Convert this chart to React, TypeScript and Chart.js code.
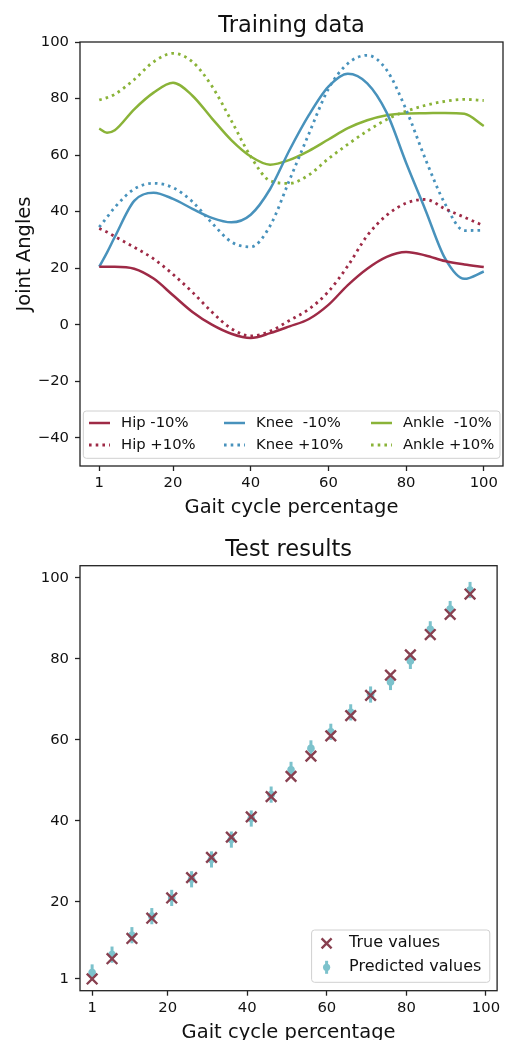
import React, { useEffect, useRef } from 'react';
import { Chart, registerables } from 'chart.js';

Chart.register(...registerables);

const FONT = '"DejaVu Sans", "Liberation Sans", sans-serif';
Chart.defaults.font.family = FONT;

// ---------- Training data ----------
const gaitX = [1, 3, 5, 10, 15, 20, 25, 30, 35, 40, 45, 50, 55, 60, 65, 70, 75, 80, 85, 90, 95, 100];
const hipMinus = [20.5, 20.5, 20.5, 19.8, 16.3, 10.4, 4.5, 0, -3.2, -4.7, -3.0, -0.6, 2.0, 7.0, 14.0, 19.8, 24.0, 25.7, 24.5, 22.5, 21.3, 20.4];
const hipPlus = [34, 32.8, 31.2, 27.4, 23.3, 17.8, 11.5, 4.5, -1.4, -4.0, -2.3, 1.5, 5.5, 11.7, 20.8, 31.5, 38.7, 43.0, 44.3, 41.0, 38.0, 35.0];
const kneeMinus = [20.5, 25.5, 31, 43.8, 46.7, 44.5, 41, 37.8, 36.2, 38.9, 48, 61.8, 74.2, 84.2, 88.8, 85.4, 75, 57.3, 40.5, 23.5, 16.2, 18.8];
const kneePlus = [34.5, 38, 41.5, 48, 50, 48.5, 43.5, 36, 29.3, 27.5, 35, 51.2, 67.6, 83.4, 92.4, 95.3, 90.1, 76.1, 58.5, 42.8, 33.3, 33.4];
const ankleMinus = [69.4, 67.9, 68.8, 76.2, 82.1, 85.6, 81, 73, 65.3, 59.5, 56.6, 58.3, 61.5, 65.5, 69.5, 72.3, 74.1, 74.7, 74.8, 74.9, 74.6, 70.3];
const anklePlus = [79.5, 80.3, 81.5, 86.7, 93, 96, 93, 84.4, 72.2, 59.5, 50.9, 50, 53, 58.7, 63.8, 68.5, 72.6, 75.5, 77.6, 79, 79.7, 79.3];
const trainLabels = ['Hip -10%', 'Hip +10%', 'Knee  -10%', 'Knee +10%', 'Ankle  -10%', 'Ankle +10%'];
const trainTicksX = [1, 20, 40, 60, 80, 100];
const trainTicksY = [-40, -20, 0, 20, 40, 60, 80, 100];

// ---------- Test results ----------
const testX = [1, 6, 11, 16, 21, 26, 31, 36, 41, 46, 51, 56, 61, 66, 71, 76, 81, 86, 91, 96];
const trueValues = [1, 6, 11, 16, 21, 26, 31, 36, 41, 46, 51, 56, 61, 66, 71, 76, 81, 86, 91, 96];
const predictedValues = [2.6, 7.0, 11.8, 16.5, 21.0, 25.6, 30.5, 35.4, 40.6, 46.5, 52.6, 57.9, 62.0, 66.8, 71.2, 74.3, 79.5, 87.3, 92.3, 97.0];
const predictedErrors = [2.0, 2.0, 2.0, 2.0, 2.0, 2.0, 2.0, 2.0, 2.0, 2.0, 2.0, 2.0, 2.0, 2.0, 2.0, 2.0, 2.0, 2.0, 2.0, 2.0];
const testLabels = ['True values', 'Predicted values'];
const testTicksX = [1, 20, 40, 60, 80, 100];
const testTicksY = [1, 20, 40, 60, 80, 100];

const HIP = '#9e2a46';
const KNEE = '#4892bc';
const ANKLE = '#8ab338';
const TRUE_C = '#884050';
const PRED_C = '#7cc2cc';
const TEXT = '#111111';
const DOT = [2.6, 4.1];

const fixedTicks = (vals: number[]) => (scale: any) => {
  scale.ticks = vals.map((v) => ({ value: v }));
};
const fmt = (v: any) => String(v).replace('-', '\u2212');

function roundRect(ctx: CanvasRenderingContext2D, x: number, y: number, w: number, h: number, r: number) {
  ctx.beginPath();
  ctx.moveTo(x + r, y);
  ctx.lineTo(x + w - r, y);
  ctx.arcTo(x + w, y, x + w, y + r, r);
  ctx.lineTo(x + w, y + h - r);
  ctx.arcTo(x + w, y + h, x + w - r, y + h, r);
  ctx.lineTo(x + r, y + h);
  ctx.arcTo(x, y + h, x, y + h - r, r);
  ctx.lineTo(x, y + r);
  ctx.arcTo(x, y, x + r, y, r);
  ctx.closePath();
}

function drawFrameAndTitles(chart: any, title: string, xTitle: string, yTitle: string | null) {
  const { ctx, chartArea: ca } = chart;
  ctx.save();
  ctx.strokeStyle = '#222';
  ctx.lineWidth = 1.3;
  ctx.setLineDash([]);
  ctx.strokeRect(ca.left, ca.top, ca.right - ca.left, ca.bottom - ca.top);
  ctx.fillStyle = TEXT;
  ctx.textAlign = 'center';
  ctx.textBaseline = 'alphabetic';
  ctx.font = `22.5px ${FONT}`;
  ctx.fillText(title, (ca.left + ca.right) / 2, ca.top - 9.7);
  ctx.font = `19.5px ${FONT}`;
  ctx.fillText(xTitle, (ca.left + ca.right) / 2, ca.bottom + 47.3);
  if (yTitle) {
    ctx.translate(30, (ca.top + ca.bottom) / 2);
    ctx.rotate(-Math.PI / 2);
    ctx.fillText(yTitle, 0, 0);
  }
  ctx.restore();
}

function axisCommon(min: number, max: number, ticks: number[], pad: number) {
  return {
    type: 'linear' as const,
    min,
    max,
    afterBuildTicks: fixedTicks(ticks),
    border: { display: false },
    grid: {
      display: true,
      drawOnChartArea: false,
      drawTicks: true,
      tickLength: 5,
      tickColor: '#222',
      tickWidth: 1.3,
      color: '#222',
    },
    ticks: {
      autoSkip: false,
      maxRotation: 0,
      padding: pad,
      color: TEXT,
      font: { size: 14.8, family: FONT },
      callback: fmt,
    },
  };
}

function TrainingChart() {
  const ref = useRef<HTMLCanvasElement | null>(null);
  useEffect(() => {
    if (!ref.current) return;
    const series = [hipMinus, hipPlus, kneeMinus, kneePlus, ankleMinus, anklePlus];
    const colors = [HIP, HIP, KNEE, KNEE, ANKLE, ANKLE];
    const datasets = series.map((vals, i) => ({
      label: trainLabels[i],
      data: gaitX.map((x, j) => ({ x, y: vals[j] })),
      borderColor: colors[i],
      backgroundColor: colors[i],
      borderWidth: i % 2 === 0 ? 2.5 : 2.8,
      borderDash: i % 2 === 0 ? [] : DOT,
      pointRadius: 0,
      cubicInterpolationMode: 'monotone' as const,
      fill: false,
    }));
    const decor = {
      id: 'trainDecor',
      afterDraw(chart: any) {
        drawFrameAndTitles(chart, 'Training data', 'Gait cycle percentage', 'Joint Angles');
        const { ctx, chartArea: ca } = chart;
        ctx.save();
        const left = ca.left + 3.3;
        const right = ca.right - 3;
        const top = ca.bottom - 55;
        const bottom = ca.bottom - 7.7;
        roundRect(ctx, left, top, right - left, bottom - top, 3);
        ctx.fillStyle = 'rgba(255,255,255,0.8)';
        ctx.fill();
        ctx.strokeStyle = '#d0d0d0';
        ctx.lineWidth = 1;
        ctx.stroke();
        const colX = [ca.left + 9, ca.left + 144, ca.left + 291];
        chart.data.datasets.forEach((ds: any, i: number) => {
          const col = Math.floor(i / 2);
          const row = i % 2;
          const y = ca.bottom - 43 + row * 22;
          const x0 = colX[col];
          ctx.strokeStyle = ds.borderColor;
          ctx.lineWidth = ds.borderWidth;
          ctx.setLineDash(ds.borderDash || []);
          ctx.beginPath();
          ctx.moveTo(x0, y);
          ctx.lineTo(x0 + 21, y);
          ctx.stroke();
          ctx.setLineDash([]);
          ctx.fillStyle = TEXT;
          ctx.font = `14.8px ${FONT}`;
          ctx.textAlign = 'left';
          ctx.textBaseline = 'middle';
          ctx.fillText(ds.label, x0 + 32, y);
        });
        ctx.restore();
      },
    };
    const chart = new Chart(ref.current, {
      type: 'line',
      data: { datasets },
      options: {
        responsive: false,
        animation: false,
        layout: { padding: { top: 42, right: 4, left: 0, bottom: 0 } },
        plugins: { legend: { display: false }, title: { display: false }, tooltip: { enabled: false } },
        scales: {
          x: { ...axisCommon(-3.95, 104.95, trainTicksX, 3.5), afterFit: (s: any) => { s.height = 59; } },
          y: { ...axisCommon(-50, 100, trainTicksY, 6), afterFit: (s: any) => { s.width = 80; } },
        },
      },
      plugins: [decor],
    } as any);
    return () => chart.destroy();
  }, []);
  return <canvas ref={ref} width={507} height={525} style={{ display: 'block', width: 507, height: 525 }} />;
}

function TestChart() {
  const ref = useRef<HTMLCanvasElement | null>(null);
  useEffect(() => {
    if (!ref.current) return;
    const errorBars = {
      id: 'errorBars',
      beforeDatasetsDraw(chart: any) {
        const { ctx, scales } = chart;
        ctx.save();
        ctx.strokeStyle = PRED_C;
        ctx.lineWidth = 3;
        testX.forEach((x, i) => {
          const px = scales.x.getPixelForValue(x);
          const y1 = scales.y.getPixelForValue(predictedValues[i] - predictedErrors[i]);
          const y2 = scales.y.getPixelForValue(predictedValues[i] + predictedErrors[i]);
          ctx.beginPath();
          ctx.moveTo(px, y1);
          ctx.lineTo(px, y2);
          ctx.stroke();
        });
        ctx.restore();
      },
    };
    const decor = {
      id: 'testDecor',
      afterDraw(chart: any) {
        drawFrameAndTitles(chart, 'Test results', 'Gait cycle percentage', null);
        const { ctx, chartArea: ca } = chart;
        ctx.save();
        const left = ca.right - 185.5;
        const right = ca.right - 7.3;
        const top = ca.bottom - 60.7;
        const bottom = ca.bottom - 8.4;
        roundRect(ctx, left, top, right - left, bottom - top, 3);
        ctx.fillStyle = 'rgba(255,255,255,0.8)';
        ctx.fill();
        ctx.strokeStyle = '#d0d0d0';
        ctx.lineWidth = 1;
        ctx.stroke();
        const mx = left + 15;
        const r1 = ca.bottom - 47.4;
        const r2 = ca.bottom - 23.4;
        // X marker
        ctx.strokeStyle = TRUE_C;
        ctx.lineWidth = 2.4;
        const d = 5;
        ctx.beginPath();
        ctx.moveTo(mx - d, r1 - d);
        ctx.lineTo(mx + d, r1 + d);
        ctx.moveTo(mx + d, r1 - d);
        ctx.lineTo(mx - d, r1 + d);
        ctx.stroke();
        // error bar marker
        ctx.strokeStyle = PRED_C;
        ctx.lineWidth = 3;
        ctx.beginPath();
        ctx.moveTo(mx, r2 - 6.5);
        ctx.lineTo(mx, r2 + 6.5);
        ctx.stroke();
        ctx.fillStyle = PRED_C;
        ctx.beginPath();
        ctx.arc(mx, r2, 3.6, 0, Math.PI * 2);
        ctx.fill();
        ctx.fillStyle = TEXT;
        ctx.font = `16px ${FONT}`;
        ctx.textAlign = 'left';
        ctx.textBaseline = 'middle';
        ctx.fillText(testLabels[0], left + 37.5, r1);
        ctx.fillText(testLabels[1], left + 37.5, r2);
        ctx.restore();
      },
    };
    const chart = new Chart(ref.current, {
      type: 'scatter',
      data: {
        datasets: [
          {
            label: testLabels[0],
            data: testX.map((x, i) => ({ x, y: trueValues[i] })),
            pointStyle: 'crossRot',
            pointRadius: 7.5,
            pointBorderWidth: 2.4,
            borderColor: TRUE_C,
            backgroundColor: TRUE_C,
          },
          {
            label: testLabels[1],
            data: testX.map((x, i) => ({ x, y: predictedValues[i] })),
            pointStyle: 'circle',
            pointRadius: 3.8,
            pointBorderWidth: 0,
            borderColor: PRED_C,
            backgroundColor: PRED_C,
          },
        ],
      },
      options: {
        responsive: false,
        animation: false,
        layout: { padding: { top: 40.7, right: 4, left: 0, bottom: 0 } },
        plugins: { legend: { display: false }, title: { display: false }, tooltip: { enabled: false } },
        scales: {
          x: { ...axisCommon(-2.05, 102.8, testTicksX, 3.5), afterFit: (s: any) => { s.height = 49.3; } },
          y: { ...axisCommon(-1.9, 103, testTicksY, 6), afterFit: (s: any) => { s.width = 80; } },
        },
      },
      plugins: [errorBars, decor],
    } as any);
    return () => chart.destroy();
  }, []);
  return <canvas ref={ref} width={507} height={515} style={{ display: 'block', width: 507, height: 515 }} />;
}

export default function App() {
  return (
    <div style={{ position: 'absolute', left: 0, top: 0, width: 507, height: 1040, background: '#fff', overflow: 'hidden' }}>
      <TrainingChart />
      <TestChart />
    </div>
  );
}
